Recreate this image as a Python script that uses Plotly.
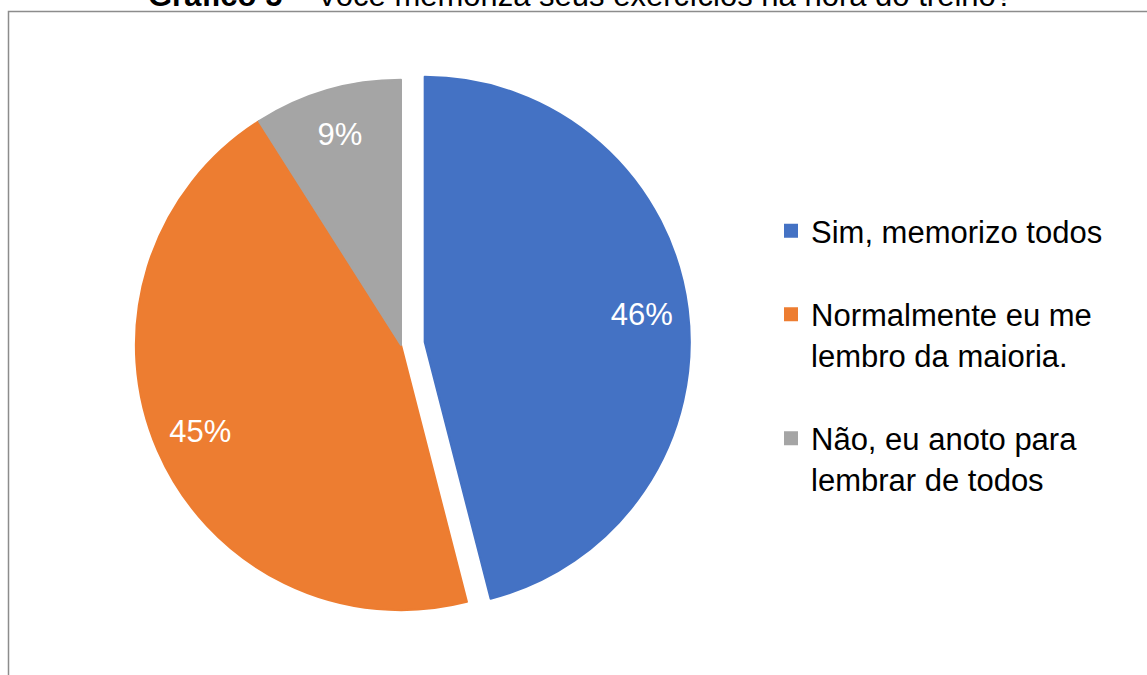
import plotly.graph_objects as go

# ---- data ----
labels = [
    "Sim, memorizo todos",
    "Normalmente eu me lembro da maioria.",
    "Não, eu anoto para lembrar de todos",
]
legend_labels = [
    "Sim, memorizo todos<br> ",
    "Normalmente eu me<br>lembro da maioria.<br> ",
    "Não, eu anoto para<br>lembrar de todos",
]
values = [46, 45, 9]
colors = ["#4472C4", "#ED7D31", "#A5A5A5"]
pulls = [0.09, 0, 0]

title_bold = "Gráfico 5"
title_rest = " – Você memoriza seus exercícios na hora do treino?"

W, H = 1147, 675
FONT = "Liberation Sans, Arial, sans-serif"

dom_x = [112 / W, 690 / W]
dom_y = [1 - 634 / H, 1 - 56 / H]

fig = go.Figure()

# main pie (slices + legend)
fig.add_trace(go.Pie(
    labels=legend_labels,
    values=values,
    sort=False,
    direction="clockwise",
    rotation=0,
    pull=pulls,
    marker=dict(colors=colors, line=dict(color=colors, width=2)),
    textinfo="none",
    hoverinfo="label+percent",
    domain=dict(x=dom_x, y=dom_y),
    showlegend=True,
))

# transparent ring carrying the percentage labels
fig.add_trace(go.Pie(
    labels=legend_labels,
    values=values,
    sort=False,
    direction="clockwise",
    rotation=0,
    pull=pulls,
    hole=0.65,
    marker=dict(colors=["rgba(0,0,0,0)"] * len(values), line=dict(width=0)),
    textinfo="percent",
    textposition="inside",
    insidetextorientation="horizontal",
    textfont=dict(family=FONT, size=31, color="white"),
    hoverinfo="skip",
    domain=dict(x=dom_x, y=dom_y),
    showlegend=False,
))

fig.update_layout(
    width=W,
    height=H,
    margin=dict(l=0, r=0, t=0, b=0, autoexpand=False),
    paper_bgcolor="white",
    plot_bgcolor="white",
    font=dict(family=FONT, size=31, color="black"),
    title=dict(
        text=f"<b>{title_bold}</b>{title_rest}",
        x=580.5 / W,
        xanchor="center",
        xref="paper",
        y=1 - 6 / H,
        yref="container",
        yanchor="bottom",
        font=dict(family=FONT, size=31, color="black"),
    ),
    legend=dict(
        x=771 / W,
        xanchor="left",
        y=1 - 204 / H,
        yanchor="top",
        valign="top",
        font=dict(family=FONT, size=31, color="black"),
        bgcolor="rgba(0,0,0,0)",
        traceorder="normal",
    ),
    shapes=[dict(
        type="rect",
        xref="paper", yref="paper",
        x0=8.5 / W, x1=1.05,
        y0=-0.05, y1=1 - 11.5 / H,
        line=dict(color="#8c8c8c", width=1.5),
        fillcolor="rgba(0,0,0,0)",
        layer="below",
    )],
)

fig.write_html(
    "out.html",
    config={"displayModeBar": False},
    post_script="document.body.style.margin='0px';",
)
